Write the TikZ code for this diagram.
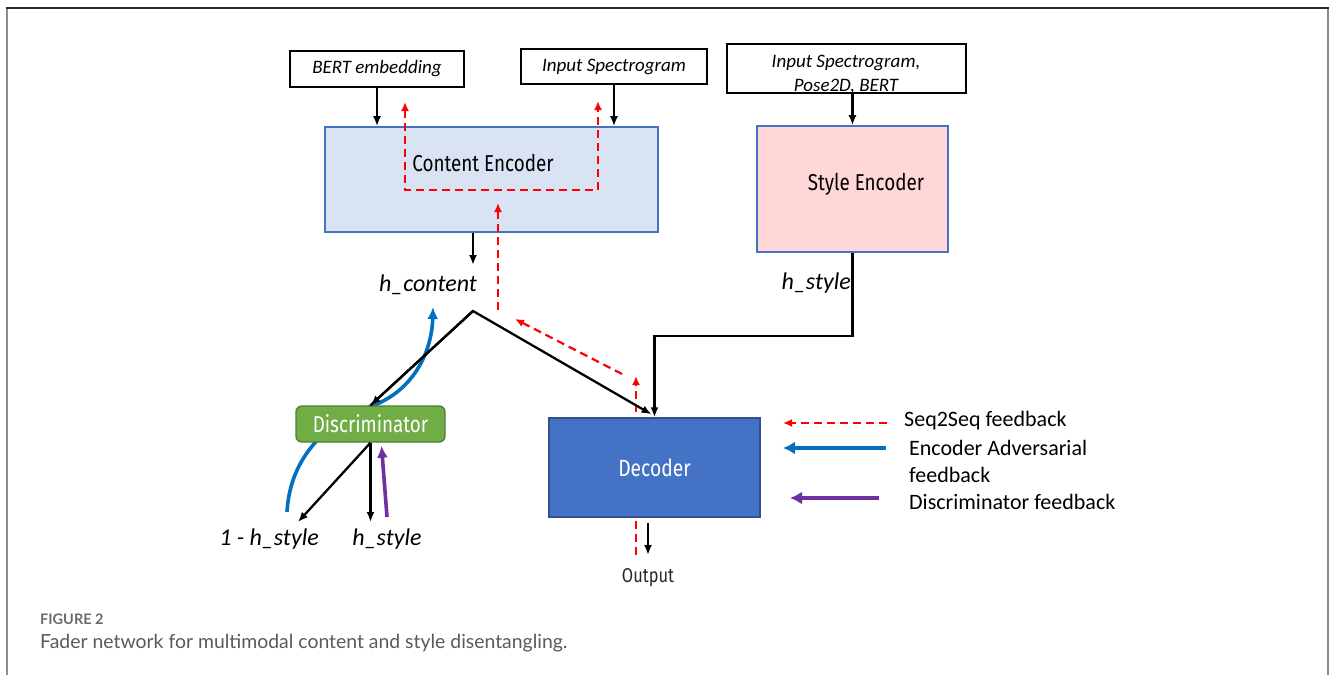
\documentclass[tikz,border=0pt]{standalone}
\usepackage{fontspec}
\setmainfont{Carlito}
\newfontfamily\capfont{Lato}
\newfontfamily\blockfont[FakeStretch=0.82]{Fira Sans}
\usetikzlibrary{arrows.meta,backgrounds}

\definecolor{cefill}{HTML}{DAE3F3}
\definecolor{sefill}{HTML}{FFD7D7}
\definecolor{boxline}{HTML}{4472C4}
\definecolor{decfill}{HTML}{4472C4}
\definecolor{decline}{HTML}{2F528F}
\definecolor{discfill}{HTML}{70AD47}
\definecolor{discline}{HTML}{507E32}
\definecolor{advblue}{HTML}{0070C0}
\definecolor{discpurple}{HTML}{7030A0}
\definecolor{fbred}{HTML}{FF0000}
\definecolor{framedark}{HTML}{2B2B2B}
\definecolor{framegrey}{HTML}{8C8C8C}
\definecolor{capgrey}{HTML}{5A5A5A}

\begin{document}
\begin{tikzpicture}[x=1pt,y=-1pt,
  inbox/.style={draw=black, line width=2pt, fill=white, inner sep=0pt,
    font=\fontsize{19}{22}\selectfont\itshape},
  encbox/.style={draw=boxline, line width=1.6pt, inner sep=0pt},
  enctext/.style={font=\blockfont\fontsize{23}{27}\selectfont, inner sep=0pt},
  lbl/.style={font=\fontsize{24}{28}\selectfont\itshape, inner sep=0pt},
  legtext/.style={font=\fontsize{22}{27}\selectfont, inner sep=0pt, anchor=west, align=left},
  arr/.style={line width=2.3pt, -{Latex[length=10pt,width=8pt]}},
  fb/.style={draw=fbred, dash pattern=on 8pt off 5pt, line width=2.2pt,
    -{Latex[length=9pt,width=8pt]}},
  fbtwo/.style={draw=fbred, dash pattern=on 8pt off 5pt, line width=2.2pt,
    {Latex[length=9pt,width=8pt]}-{Latex[length=9pt,width=8pt]}},
  adv/.style={draw=advblue, line width=3.6pt, -{Latex[length=12pt,width=11pt]}},
  advleg/.style={draw=advblue, line width=4pt, -{Latex[length=12pt,width=13pt]}},
  dfb/.style={draw=discpurple, line width=3.6pt, -{Latex[length=12pt,width=11pt]}},
  dfbleg/.style={draw=discpurple, line width=4pt, -{Latex[length=12pt,width=13pt]}}
]
\useasboundingbox (0,0) rectangle (1330,675);
\begin{pgfonlayer}{background}
  \fill[white] (0,0) rectangle (1330,675);
\end{pgfonlayer}

% outer frame, open at the bottom
\draw[framegrey, line width=2pt] (7,8) -- (7,675);
\draw[framegrey, line width=2pt] (1328,8) -- (1328,675);
\draw[framedark, line width=2pt] (6,8) -- (1329,8);

% input boxes
\node[inbox, minimum width=174, minimum height=36] (bert) at (377,69) {BERT embedding};
\node[inbox, minimum width=186, minimum height=35] (spec) at (614,66.5) {Input Spectrogram};
\node[inbox, minimum width=239, minimum height=49] (pose) at (846.5,68.5) {};
\node[inbox, draw=none, fill=none, align=center,
  font=\fontsize{19}{24}\selectfont\itshape] (poset) at (846,75) {Input Spectrogram,\\Pose2D, BERT};

% encoders
\node[encbox, fill=cefill, minimum width=333, minimum height=105] (ce) at (491.5,179.5) {};
\node[enctext] (cet) at (483,163) {Content Encoder};
\node[encbox, fill=sefill, minimum width=191, minimum height=126] (se) at (852.5,189) {};
\node[enctext] (set) at (866,184) {Style Encoder};

% discriminator and decoder
\node[draw=discline, fill=discfill, line width=1.4pt, rounded corners=6pt,
  minimum width=149, minimum height=36, inner sep=0pt, text=white,
  font=\blockfont\fontsize{23}{27}\selectfont] (disc) at (370.5,424) {Discriminator};
\node[draw=decline, fill=decfill, line width=1.4pt, minimum width=211,
  minimum height=99, inner sep=0pt, text=white,
  font=\blockfont\fontsize{23.5}{27}\selectfont] (dec) at (654.5,467.5) {Decoder};

% labels
\node[lbl] (hc) at (428,285) {h\_content};
\node[lbl, anchor=east] (hs) at (851,283) {h\_style};
\node[lbl] (onehs) at (269,539) {1 - h\_style};
\node[lbl] (hs2) at (387,539) {h\_style};
\node[font=\blockfont\fontsize{20}{24}\selectfont, text=black!85, inner sep=0pt] (out) at (648,578) {Output};

% helper points
\coordinate (apex) at (473,311);
\coordinate (hcin) at (473,265);
\coordinate (o1) at (298,522);
\coordinate (o2) at (370.5,522);
\coordinate (pstart) at (387,517);
\coordinate (outend) at (648,555);

% forward connections
\draw[arr] (bert.south) -- (bert.south |- ce.north);
\draw[arr] (spec.south) -- (spec.south |- ce.north);
\draw[arr] (pose.south -| se.north) -- (se.north);
\draw[arr] (ce.south -| apex) -- (hcin);
\draw[arr, line join=miter] (disc.north) -- (apex) -- ([xshift=-3pt,yshift=3pt]dec.north);
\draw[arr] (apex) -- (disc.north);
\draw[arr] (se.south) -- ++(0,83) -| (dec.north);
\draw[arr] (disc.south) -- (o1);
\draw[arr] (disc.south) -- (o2);
\draw[arr] (dec.south -| outend) ++(0,5) -- (outend);

% discriminator feedback
\draw[dfb] (pstart) -- ([xshift=11pt,yshift=-3pt]disc.south);

% seq2seq feedback
\draw[fbtwo] (405,102) -- (405,190) -- (598,190) -- (598,101);
\draw[fb] (498,310) -- (498,203);
\draw[fb] (622,374) -- (515,319);

\begin{pgfonlayer}{background}
  % paths running behind the blocks
  \draw[fb] (636,555) -- (636,376);
  \draw[adv] (287,512) .. controls (290,455) and (330,420) .. (372,406)
    .. controls (415,390) and (432,350) .. (433,307);
\end{pgfonlayer}

% legend
\coordinate (l1a) at (887,423); \coordinate (l1b) at (783,423);
\coordinate (l2a) at (886,448); \coordinate (l2b) at (783,448);
\coordinate (l3a) at (879,498); \coordinate (l3b) at (790,498);
\draw[fb] (l1a) -- (l1b);
\draw[advleg] (l2a) -- (l2b);
\draw[dfbleg] (l3a) -- (l3b);
\node[legtext] (lt1) at (904,421) {Seq2Seq feedback};
\node[legtext] (lt2) at (909,461.5) {Encoder Adversarial\\feedback};
\node[legtext] (lt3) at (909,502) {Discriminator feedback};

% caption
\node[anchor=west, inner sep=0pt, text=black!58,
  font=\capfont\bfseries\fontsize{14.5}{17}\selectfont] (fig) at (40,619) {FIGURE 2};
\node[anchor=west, inner sep=0pt, text=capgrey,
  font=\capfont\fontsize{19.4}{23}\selectfont] (cap) at (40,643)
  {Fader network for multimodal content and style disentangling.};
\end{tikzpicture}
\end{document}
